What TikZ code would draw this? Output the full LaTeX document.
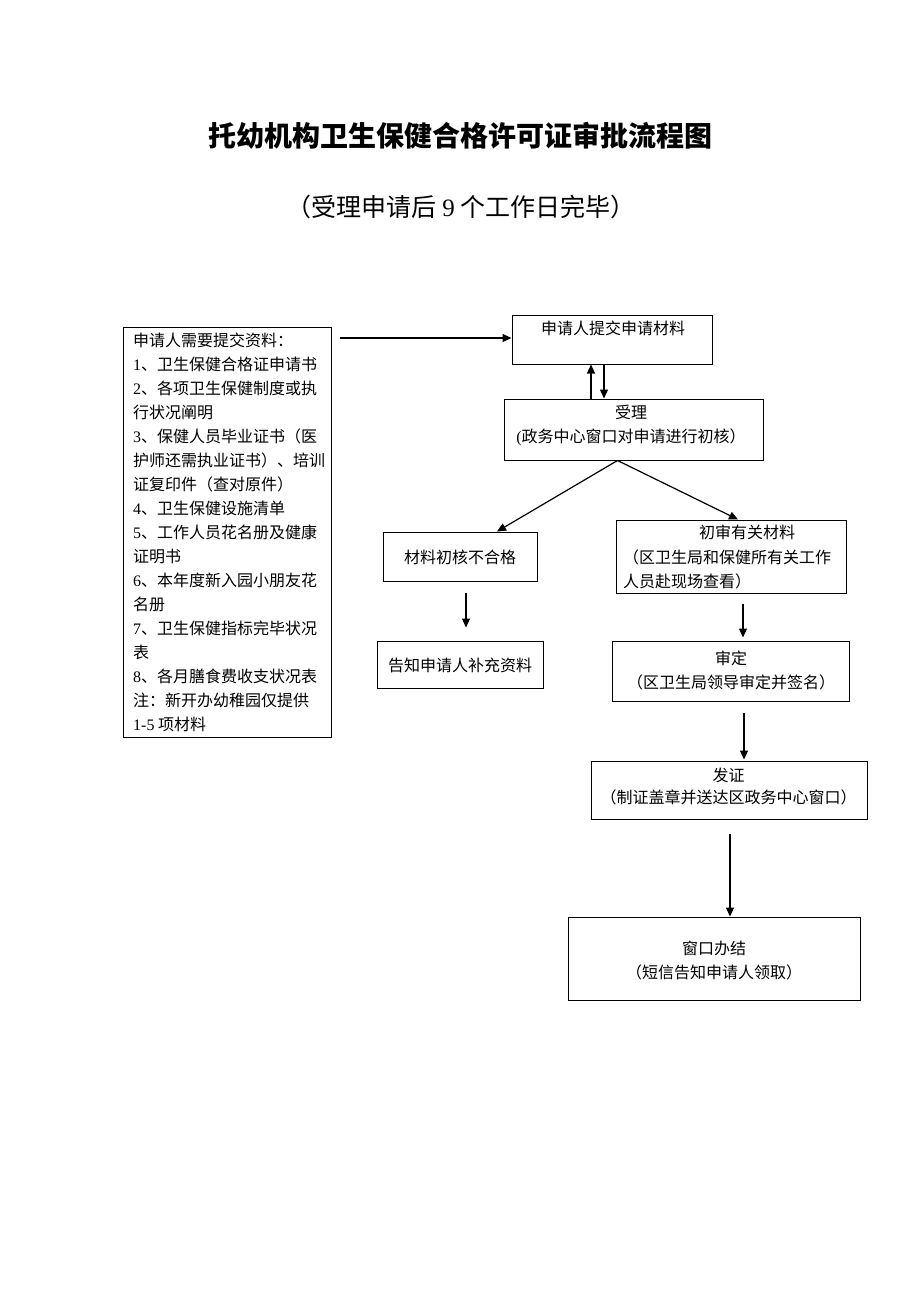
\documentclass[tikz,border=0pt]{standalone}
\usepackage{fontspec}
\setmainfont{Noto Sans CJK SC}
\newfontfamily\lat{Liberation Serif}
\usetikzlibrary{arrows.meta}
\begin{document}
\begin{tikzpicture}[x=1pt,y=-1pt,
  box/.style={draw, line width=1pt, inner sep=0pt},
  txt/.style={inner sep=0pt, font=\fontsize{16}{24}\selectfont},
  arr/.style={-{Triangle[length=9pt,width=8pt]}, line width=1.2pt}]
\useasboundingbox (0,0) rectangle (920,1302);
\fill[white] (0,0) rectangle (920,1302);

% title
\node[inner sep=0pt, font=\fontsize{28}{30}\selectfont\bfseries] (title) at (460,136) {托幼机构卫生保健合格许可证审批流程图};
\node[inner sep=0pt, font=\fontsize{25}{28}\selectfont] (sub) at (461,207) {（受理申请后 {\lat 9} 个工作日完毕）};

% boxes
\node[box, minimum width=208pt, minimum height=410pt] (L) at (227,532) {};
\node[box, minimum width=200pt, minimum height=49pt] (A) at (612,339.5) {};
\node[box, minimum width=259pt, minimum height=61pt] (B) at (633.5,429.5) {};
\node[box, minimum width=154pt, minimum height=49pt] (C) at (460,556.5) {};
\node[box, minimum width=166pt, minimum height=47pt] (D) at (460,664.5) {};
\node[box, minimum width=230pt, minimum height=73pt] (E) at (731,556.5) {};
\node[box, minimum width=237pt, minimum height=60pt] (F) at (730.5,671) {};
\node[box, minimum width=276pt, minimum height=58pt] (G) at (729,790) {};
\node[box, minimum width=292pt, minimum height=83pt] (H) at (714,958.5) {};

% texts
\node[txt, anchor=west, align=left] (Lt) at (133,532.5) {申请人需要提交资料：\\
{\lat 1}、卫生保健合格证申请书\\
{\lat 2}、各项卫生保健制度或执\\
行状况阐明\\
{\lat 3}、保健人员毕业证书（医\\
护师还需执业证书）、培训\\
证复印件（查对原件）\\
{\lat 4}、卫生保健设施清单\\
{\lat 5}、工作人员花名册及健康\\
证明书\\
{\lat 6}、本年度新入园小朋友花\\
名册\\
{\lat 7}、卫生保健指标完毕状况\\
表\\
{\lat 8}、各月膳食费收支状况表\\
注：新开办幼稚园仅提供\\
{\lat 1-5} 项材料};
\node[txt] (At) at (613,328) {申请人提交申请材料};
\node[txt, align=center] (Bt) at (631,425) {受理\\{\lat (}政务中心窗口对申请进行初核）};
\node[txt] (Ct) at (460,557) {材料初核不合格};
\node[txt] (Dt) at (460,665) {告知申请人补充资料};
\node[txt] (Et1) at (747,532) {初审有关材料};
\node[txt, anchor=west, align=left] (Et2) at (623,569) {（区卫生局和保健所有关工作\\人员赴现场查看）};
\node[txt, align=center] (Ft) at (731,670.5) {审定\\（区卫生局领导审定并签名）};
\node[txt, align=center, font=\fontsize{16}{22}\selectfont] (Gt) at (728.5,787) {发证\\（制证盖章并送达区政务中心窗口）};
\node[txt, align=center] (Ht) at (714,960) {窗口办结\\（短信告知申请人领取）};

% connectors
\coordinate (s1) at (340,338);
\draw[arr] (s1) -- (s1 -| A.west);
\coordinate (xu) at (591,0);
\coordinate (xd) at (604,0);
\draw[arr] (B.north -| xu) -- (A.south -| xu);
\draw[arr] (A.south -| xd) -- (B.north -| xd);
\coordinate (bs) at ([xshift=-16pt]B.south);
\draw[arr] (bs) -- ([xshift=37pt]C.north);
\draw[arr] (bs) -- ([xshift=7pt]E.north);
\draw[arr] ([xshift=6pt,yshift=-11pt]C.south) -- ([xshift=6pt,yshift=13pt]D.north);
\draw[arr] ([xshift=12pt,yshift=-10pt]E.south) -- ([xshift=12.5pt,yshift=3pt]F.north);
\draw[arr] ([xshift=13.5pt,yshift=-11pt]F.south) -- ([xshift=15pt,yshift=1pt]G.north);
\draw[arr] ([xshift=1pt,yshift=-14pt]G.south) -- ([xshift=16pt]H.north);
\end{tikzpicture}
\end{document}
